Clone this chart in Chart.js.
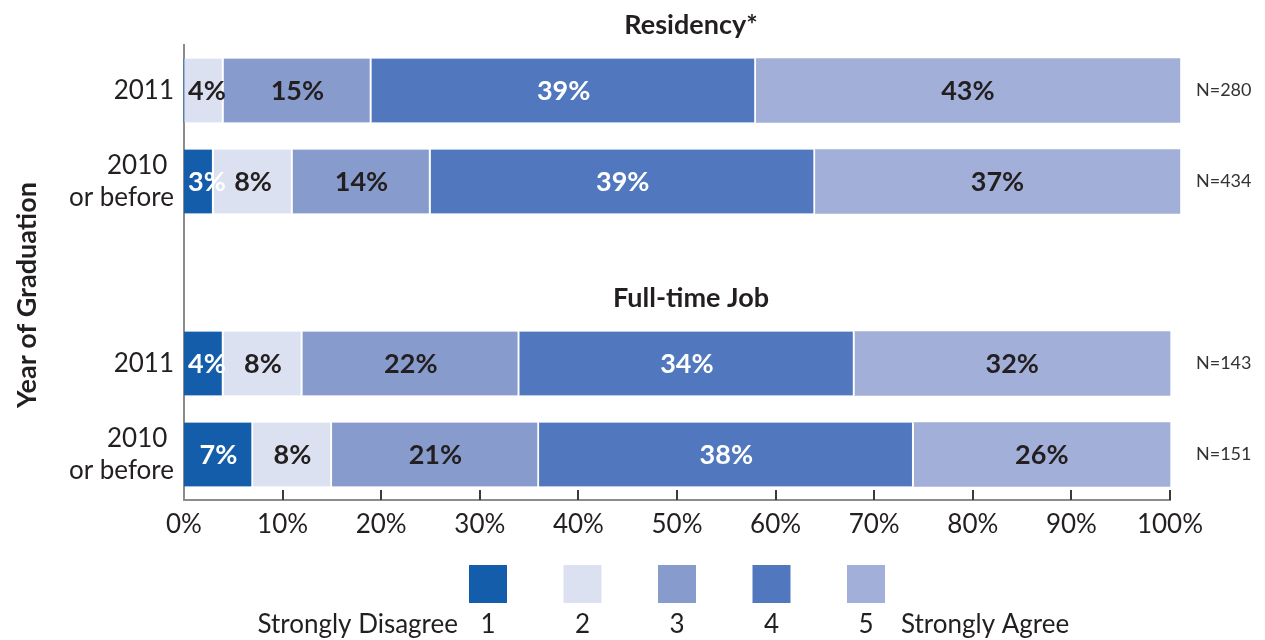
<!DOCTYPE html>
<html>
<head>
<meta charset="utf-8">
<script src="https://cdn.jsdelivr.net/npm/chart.js@4.4.1/dist/chart.umd.min.js"></script>
<style>
  html, body { margin: 0; padding: 0; background: #fff; }
  #wrap { width: 1265px; height: 640px; }
</style>
</head>
<body>
<div id="wrap"><canvas id="chart" width="1265" height="640"></canvas></div>
<script>
const categories = ['2011', ['2010 ', 'or before'], '', '2011', ['2010 ', 'or before']];
const groupTitles = ['Residency*', 'Full-time Job'];
const groupStartRows = [0, 3];
const nLabels = ['N=280', 'N=434', '', 'N=143', 'N=151'];
const yTitle = 'Year of Graduation';

const scaleNames = ['1', '2', '3', '4', '5'];
const scaleEnds = ['Strongly Disagree', 'Strongly Agree'];
const colors = ['#145dab', '#dce1f1', '#889bcd', '#5178be', '#a2afd9'];
const labelColors = ['#ffffff', '#231f20', '#231f20', '#ffffff', '#231f20'];

const agree1 = [0, 3, null, 4, 7];
const agree2 = [4, 8, null, 8, 8];
const agree3 = [15, 14, null, 22, 21];
const agree4 = [39, 39, null, 34, 38];
const agree5 = [43, 37, null, 32, 26];

const xTicks = [0, 10, 20, 30, 40, 50, 60, 70, 80, 90, 100];

const textColor = '#231f20';
const fontFamily = 'Lato, "Open Sans", sans-serif';

const series = [agree1, agree2, agree3, agree4, agree5];

// value labels, N labels, titles, inward ticks and the scale legend
const extras = {
  id: 'extras',
  afterDatasetsDraw(chart) {
    const ctx = chart.ctx;
    const area = chart.chartArea;
    const x = chart.scales.x;
    const y = chart.scales.y;

    ctx.save();
    ctx.textBaseline = 'middle';

    // segment labels
    ctx.font = 'bold 27px ' + fontFamily;
    chart.data.datasets.forEach((ds, di) => {
      const meta = chart.getDatasetMeta(di);
      meta.data.forEach((bar, i) => {
        const v = ds.data[i];
        if (!v) return;
        const txt = v + '%';
        const w = ctx.measureText(txt).width;
        let cx = (bar.x + bar.base) / 2;
        if (cx - w / 2 < bar.base + 4) cx = bar.base + 4 + w / 2;
        ctx.fillStyle = labelColors[di];
        ctx.textAlign = 'center';
        ctx.fillText(txt, cx, bar.y + 1);
      });
    });

    // N labels
    ctx.font = '18px ' + fontFamily;
    ctx.fillStyle = '#333';
    ctx.textAlign = 'left';
    nLabels.forEach((t, i) => {
      if (t) ctx.fillText(t, area.right + 26, y.getPixelForValue(i));
    });

    // group titles
    ctx.font = 'bold 27px ' + fontFamily;
    ctx.fillStyle = textColor;
    ctx.textAlign = 'center';
    const midX = (area.left + area.right) / 2 + 14;
    groupTitles.forEach((t, g) => {
      ctx.fillText(t, midX, y.getPixelForValue(groupStartRows[g]) - 65);
    });

    // y axis title
    ctx.save();
    ctx.translate(27, 295);
    ctx.rotate(-Math.PI / 2);
    ctx.font = 'bold 27px ' + fontFamily;
    ctx.fillText(yTitle, 0, 0);
    ctx.restore();

    // tick marks pointing up into the plot
    ctx.strokeStyle = '#3a3a3a';
    ctx.lineWidth = 2;
    xTicks.slice(1).forEach(v => {
      const px = Math.round(x.getPixelForValue(v));
      ctx.beginPath();
      ctx.moveTo(px, area.bottom);
      ctx.lineTo(px, area.bottom - 10);
      ctx.stroke();
    });

    // legend
    const step = 94.5;
    const cx0 = (area.left + area.right) / 2 - step * 2;
    ctx.font = '26px ' + fontFamily;
    scaleNames.forEach((n, i) => {
      const cx = cx0 + step * i;
      ctx.fillStyle = colors[i];
      ctx.fillRect(cx - 19, 565, 38, 38);
      ctx.fillStyle = textColor;
      ctx.textAlign = 'center';
      ctx.fillText(n, cx, 625);
    });
    ctx.textAlign = 'right';
    ctx.fillText(scaleEnds[0], cx0 - 30, 625);
    ctx.textAlign = 'left';
    ctx.fillText(scaleEnds[1], cx0 + step * 4 + 35, 625);

    ctx.restore();
  }
};

new Chart(document.getElementById('chart'), {
  type: 'bar',
  data: {
    labels: categories,
    datasets: series.map((d, i) => ({
      label: scaleNames[i],
      data: d,
      backgroundColor: colors[i],
      borderColor: '#ffffff',
      borderWidth: i < 4 ? { left: 0, right: 2, top: 0, bottom: 0 } : 0,
      borderSkipped: false,
      barThickness: 64,
      clip: false,
    })),
  },
  options: {
    indexAxis: 'y',
    responsive: false,
    animation: false,
    layout: { padding: { left: 0, right: 95, top: 45, bottom: 0 } },
    plugins: {
      legend: { display: false },
      tooltip: { enabled: false },
    },
    scales: {
      x: {
        stacked: true,
        min: 0,
        max: 100,
        afterFit: s => { s.height = 140; },
        afterBuildTicks: s => { s.ticks = xTicks.map(v => ({ value: v })); },
        grid: { display: false },
        border: { display: true, color: '#8c8c8c', width: 2 },
        ticks: {
          padding: 1,
          color: textColor,
          font: { family: fontFamily, size: 26 },
          callback: v => v + '%',
          maxRotation: 0,
        },
      },
      y: {
        stacked: true,
        afterFit: s => { s.width = 184; },
        grid: { display: false },
        border: { display: true, color: '#8c8c8c', width: 2 },
        ticks: {
          padding: 2,
          color: textColor,
          font: { family: fontFamily, size: 26, lineHeight: 1.23 },
        },
      },
    },
  },
  plugins: [extras],
});
</script>
</body>
</html>
